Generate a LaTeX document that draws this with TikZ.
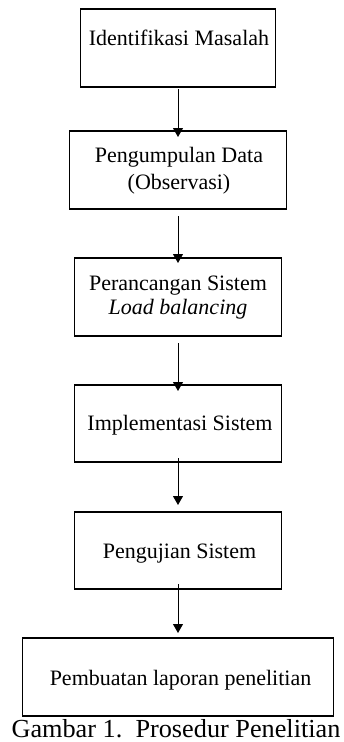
\documentclass[tikz,border=0pt]{standalone}
\usepackage{fontspec}
\setmainfont{Liberation Serif}
\usetikzlibrary{arrows.meta}
\begin{document}
\begin{tikzpicture}[x=1pt,y=1pt,
  box/.style={draw, line width=1.2pt, inner sep=0pt, outer sep=0pt, rectangle},
  txt/.style={anchor=base, font=\fontsize{22}{26}\selectfont, inner sep=0pt},
  captxt/.style={anchor=base, font=\fontsize{26}{30}\selectfont, inner sep=0pt},
  arr/.style={line width=1pt, -{Triangle[length=9pt,width=10pt]}}]
\useasboundingbox (0,0) rectangle (344,-742);
% boxes
\node[box, minimum width=195, minimum height=78] (b1) at (178,-48) {};
\node[box, minimum width=217, minimum height=78] (b2) at (178,-170) {};
\node[box, minimum width=207, minimum height=78] (b3) at (178,-297) {};
\node[box, minimum width=207, minimum height=77] (b4) at (178,-423.5) {};
\node[box, minimum width=207, minimum height=77] (b5) at (178,-550.5) {};
\node[box, minimum width=311, minimum height=78] (b6) at (178,-677) {};
% texts
\node[txt] (t1) at (179,-45) {Identifikasi Masalah};
\node[txt] (t2a) at (179,-162) {Pengumpulan Data};
\node[txt] (t2b) at (179,-189) {(Observasi)};
\node[txt] (t3a) at (178,-290) {Perancangan Sistem};
\node[txt] (t3b) at (178,-314) {\textit{Load balancing}};
\node[txt] (t4) at (180,-430) {Implementasi Sistem};
\node[txt] (t5) at (179.5,-558) {Pengujian Sistem};
\node[txt] (t6) at (180.5,-685) {Pembuatan laporan penelitian};
\node[captxt] (cap) at (176,-737) {\scalebox{1.01}[1]{Gambar 1.\hspace{0.5em}Prosedur Penelitian}};
% arrows
\draw[arr] ([yshift=-2pt]b1.south) -- ([yshift=-6pt]b2.north);
\draw[arr] ([yshift=-7pt]b2.south) -- ([yshift=-5pt]b3.north);
\draw[arr] ([yshift=-7pt]b3.south) -- ([yshift=-6pt]b4.north);
\draw[arr] ([yshift=4pt]b4.south) -- ([yshift=7pt]b5.north);
\draw[arr] ([yshift=5pt]b5.south) -- ([yshift=5pt]b6.north);
\end{tikzpicture}
\end{document}
